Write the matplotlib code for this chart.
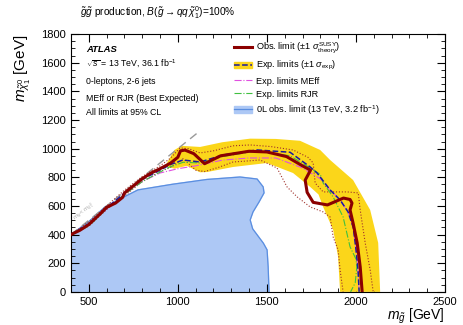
import matplotlib
matplotlib.use("Agg")
import matplotlib.pyplot as plt
from matplotlib.lines import Line2D
from matplotlib.patches import Patch
from matplotlib.ticker import MultipleLocator

plt.rcParams['font.family'] = ['Liberation Sans', 'DejaVu Sans']
plt.rcParams['mathtext.fontset'] = 'custom'
plt.rcParams['mathtext.rm'] = 'Liberation Sans'
plt.rcParams['mathtext.it'] = 'Liberation Sans:italic'

# 0L 3.2 fb-1 observed exclusion (filled region)
old_x = [400, 400, 500, 591, 687, 776, 973, 1164, 1349, 1445, 1479, 1484, 1456, 1422, 1406, 1420, 1450, 1480, 1501, 1507, 1512]
old_y = [0, 400, 490, 593, 656, 712, 752, 785, 802, 788, 733, 691, 628, 558, 502, 440, 390, 340, 293, 174, 0]

# observed limit
obs_x = [400, 450, 500, 560, 600, 650, 690, 700, 750, 800, 850, 900, 960, 1000, 1015, 1040, 1090, 1150, 1240, 1400, 1500, 1610, 1700, 1745, 1715, 1726, 1760, 1840, 1930, 1967, 1978, 1967, 1984, 2007, 2024, 2035]
obs_y = [400, 430, 470, 540, 590, 620, 660, 690, 740, 790, 830, 860, 900, 940, 985, 990, 965, 895, 950, 982, 977, 945, 880, 850, 780, 695, 625, 607, 655, 645, 620, 572, 480, 342, 174, 0]

# observed +-1 sigma theory
obs_up_x = [400, 500, 600, 700, 800, 900, 960, 1012, 1060, 1125, 1200, 1310, 1406, 1520, 1647, 1730, 1760, 1771, 1816, 1951, 2013, 2024, 2052, 2080, 2097]
obs_up_y = [400, 490, 600, 710, 805, 880, 935, 1005, 1000, 970, 985, 1020, 1026, 1015, 991, 940, 900, 760, 698, 698, 691, 572, 342, 153, 0]
obs_dn_x = [400, 500, 600, 700, 800, 900, 960, 1030, 1100, 1150, 1230, 1310, 1400, 1462, 1557, 1613, 1670, 1743, 1816, 1855, 1872, 1900, 1911, 1928]
obs_dn_y = [400, 460, 575, 670, 770, 840, 870, 930, 850, 840, 870, 907, 915, 921, 865, 733, 663, 593, 558, 523, 384, 293, 153, 0]

# expected limit and +-1 sigma band
exp_x = [400, 500, 600, 700, 800, 900, 960, 1029, 1125, 1254, 1445, 1630, 1743, 1782, 1855, 1911, 1956, 1985, 2000, 2012, 2018]
exp_y = [400, 475, 585, 690, 785, 850, 890, 921, 907, 956, 991, 975, 872, 830, 712, 642, 558, 450, 300, 150, 0]
band_hi_x = [930, 980, 1020, 1125, 1250, 1406, 1550, 1686, 1799, 1855, 1984, 2080, 2125, 2136]
band_hi_y = [880, 990, 1020, 1012, 1045, 1070, 1068, 1055, 991, 921, 781, 572, 342, 0]
band_lo_x = [930, 980, 1050, 1125, 1164, 1310, 1501, 1647, 1743, 1790, 1816, 1872, 1900, 1911]
band_lo_y = [880, 860, 880, 835, 837, 872, 900, 830, 733, 680, 593, 433, 244, 0]

# expected MEff and RJR
meff_x = [400, 500, 600, 700, 800, 900, 1000, 1100, 1250, 1400, 1550, 1690, 1760, 1800, 1855, 1911, 1956, 1985, 2000, 2012, 2018]
meff_y = [400, 470, 575, 680, 770, 830, 860, 880, 920, 935, 935, 870, 820, 790, 712, 642, 558, 450, 300, 150, 0]
rjr_x = [400, 500, 600, 700, 800, 950, 1030, 1125, 1250, 1450, 1630, 1750, 1800, 1816, 1872, 1928, 1967, 2000, 2005, 1996, 1970]
rjr_y = [400, 460, 580, 680, 770, 870, 905, 900, 945, 985, 950, 860, 820, 760, 663, 523, 314, 230, 174, 63, 0]

diag_x = [400, 1110]

fig = plt.figure(figsize=(4.64, 3.25), dpi=100)
ax = fig.add_axes([0.153, 0.102, 0.806, 0.793])

ax.fill(old_x, old_y, color='#adc8f5', zorder=1)
ax.plot(old_x[1:], old_y[1:], color='#5a8ee0', lw=0.9, zorder=2)

ax.fill(band_hi_x + band_lo_x[::-1], band_hi_y + band_lo_y[::-1], color='#fbd61a', lw=0, zorder=2)

ax.plot(diag_x, diag_x, color='#999999', lw=1, dashes=(6, 4), zorder=2)
ax.text(470, 560, r'$m_{\tilde{g}} < m_{\tilde{\chi}^0_1}$', fontsize=4.5, color='#aaaaaa',
        rotation=38, ha='center', va='center')

ax.plot(obs_up_x, obs_up_y, color='#a0302a', lw=0.8, ls=':', zorder=3)
ax.plot(obs_dn_x, obs_dn_y, color='#a0302a', lw=0.8, ls=':', zorder=3)
ax.plot(meff_x, meff_y, color='#e050e0', lw=0.8, ls='-.', zorder=3)
ax.plot(rjr_x, rjr_y, color='#40c040', lw=0.8, ls='-.', zorder=3)
ax.plot(exp_x, exp_y, color='#1a1aa0', lw=1.1, ls='--', zorder=4)
ax.plot(obs_x, obs_y, color='#8b0000', lw=2.2, zorder=5)

ax.set_xlim(400, 2500)
ax.set_ylim(0, 1800)
ax.xaxis.set_major_locator(MultipleLocator(500))
ax.xaxis.set_minor_locator(MultipleLocator(100))
ax.yaxis.set_major_locator(MultipleLocator(200))
ax.yaxis.set_minor_locator(MultipleLocator(50))
ax.tick_params(which='both', direction='in', top=True, right=True, labelsize=8)
ax.tick_params(which='major', length=6)
ax.tick_params(which='minor', length=3)

ax.set_xlabel(r'$m_{\tilde{g}}$ [GeV]', fontsize=10, loc='right', labelpad=0)
ax.set_ylabel(r'$m_{\tilde{\chi}^0_1}$ [GeV]', fontsize=11, loc='top', labelpad=6)

fig.text(0.172, 0.962, r'$\tilde{g}\tilde{g}$ production, $B(\tilde{g}\rightarrow qq\,\tilde{\chi}^0_1)$=100%',
         fontsize=7.3, va='center')

tx = 0.04
ax.text(tx, 0.942, 'ATLAS', transform=ax.transAxes, fontsize=6.8, weight='bold', style='italic', va='center')
ax.text(tx, 0.885, r'$\sqrt{s}$ = 13 TeV, 36.1 fb$^{-1}$', transform=ax.transAxes, fontsize=6.3, va='center')
ax.text(tx, 0.818, '0-leptons, 2-6 jets', transform=ax.transAxes, fontsize=6.3, va='center')
ax.text(tx, 0.752, 'MEff or RJR (Best Expected)', transform=ax.transAxes, fontsize=6.3, va='center')
ax.text(tx, 0.694, 'All limits at 95% CL', transform=ax.transAxes, fontsize=6.3, va='center')

handles = [
    Line2D([], [], color='#8b0000', lw=2.2),
    (Patch(color='#fbd61a'), Line2D([], [], color='#1a1aa0', lw=1.1, ls='--')),
    Line2D([], [], color='#e050e0', lw=0.8, ls='-.'),
    Line2D([], [], color='#40c040', lw=0.8, ls='-.'),
    (Patch(color='#adc8f5'), Line2D([], [], color='#5a8ee0', lw=0.9)),
]
labels = [
    r'Obs. limit ($\pm1\ \sigma^{\rm SUSY}_{\rm theory}$)',
    r'Exp. limits ($\pm1\ \sigma_{\rm exp}$)',
    'Exp. limits MEff',
    'Exp. limits RJR',
    r'0L obs. limit (13 TeV, 3.2 fb$^{-1}$)',
]
ax.legend(handles, labels, loc='upper left', bbox_to_anchor=(0.425, 0.99), frameon=False,
          fontsize=6.6, handlelength=2.0, handletextpad=0.4, labelspacing=0.45, borderaxespad=0)

fig.savefig('out.png', dpi=100)
